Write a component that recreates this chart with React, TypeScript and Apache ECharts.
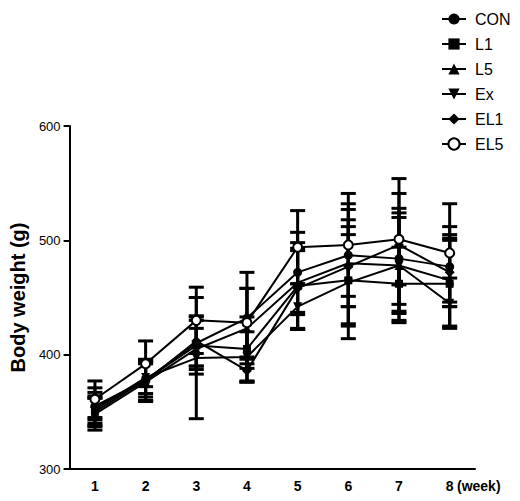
import React, { useEffect, useRef } from "react";
import * as echarts from "echarts";

const weeks = ["1", "2", "3", "4", "5", "6", "7", "8"];
const seriesNames = ["CON", "L1", "L5", "Ex", "EL1", "EL5"];

const conMean = [355, 378, 410, 432, 472, 487, 484, 477];
const l1Mean = [350, 378, 408, 405, 460, 465, 462, 462];
const l5Mean = [348, 376, 405, 423, 463, 480, 478, 465];
const exMean = [352, 380, 397, 398, 442, 463, 478, 445];
const el1Mean = [354, 377, 412, 386, 458, 477, 496, 472];
const el5Mean = [361, 392, 430, 428, 494, 496, 501, 489];

const conSd = [12, 15, 20, 40, 35, 45, 40, 35];
const l1Sd = [12, 18, 25, 28, 38, 40, 32, 38];
const l5Sd = [14, 16, 18, 35, 28, 38, 50, 40];
const exSd = [12, 14, 53, 22, 20, 49, 42, 22];
const el1Sd = [17, 18, 22, 10, 35, 50, 58, 30];
const el5Sd = [16, 20, 29, 30, 32, 45, 40, 43];

const means = [conMean, l1Mean, l5Mean, exMean, el1Mean, el5Mean];
const sds = [conSd, l1Sd, l5Sd, exSd, el1Sd, el5Sd];
const symbols = ["circle", "rect", "triangle", "triangle", "diamond", "emptyCircle"];
const rotations = [0, 0, 0, 180, 0, 0];
const symbolSizes = [9, 8, 9, 9, 10, 9];

const FONT = "Liberation Sans, Arial, sans-serif";

export default function App() {
  const ref = useRef<HTMLDivElement>(null);
  useEffect(() => {
    if (!ref.current) return;
    const chart = echarts.init(ref.current, null, { renderer: "svg" });
    const lineSeries = seriesNames.map((name, k) => ({
      name,
      type: "line",
      data: means[k],
      symbol: symbols[k],
      symbolRotate: rotations[k],
      symbolSize: symbolSizes[k],
      itemStyle: { color: "#000", borderColor: "#000", borderWidth: k === 5 ? 2.2 : 0 },
      lineStyle: { color: "#000", width: 2 },
      z: 3,
    }));
    const errSeries = seriesNames.map((name, k) => ({
      name: name + "_err",
      type: "custom",
      data: means[k].map((m, i) => [i, m - sds[k][i], m + sds[k][i]]),
      renderItem: (params: any, api: any) => {
        const i = api.value(0);
        const lo = api.coord([i, api.value(1)]);
        const hi = api.coord([i, api.value(2)]);
        const hw = 7.5;
        const style = { stroke: "#000", lineWidth: 3 };
        return {
          type: "group",
          children: [
            { type: "line", shape: { x1: lo[0], y1: lo[1], x2: hi[0], y2: hi[1] }, style },
            { type: "line", shape: { x1: lo[0] - hw, y1: lo[1], x2: lo[0] + hw, y2: lo[1] }, style },
            { type: "line", shape: { x1: hi[0] - hw, y1: hi[1], x2: hi[0] + hw, y2: hi[1] }, style },
          ],
        };
      },
      z: 2,
      silent: true,
    }));
    chart.setOption({
      animation: false,
      backgroundColor: "#fff",
      textStyle: { fontFamily: FONT },
      legend: {
        data: seriesNames,
        orient: "vertical",
        left: 436,
        top: 6,
        itemWidth: 24,
        itemHeight: 14,
        itemGap: 9,
        textStyle: { fontSize: 16, lineHeight: 14, color: "#000", fontFamily: FONT, padding: [0, 0, 0, 4] },
        selectedMode: false,
      },
      grid: { left: 69, right: 45, top: 126, bottom: 32, containLabel: false },
      xAxis: {
        type: "category",
        data: weeks,
        boundaryGap: true,
        axisLine: { lineStyle: { color: "#000", width: 2 } },
        axisTick: { alignWithLabel: true, length: 6, lineStyle: { color: "#000", width: 2 } },
        axisLabel: { color: "#000", fontSize: 14, fontWeight: "bold", margin: 10 },
        splitLine: { show: false },
      },
      yAxis: {
        type: "value",
        min: 300,
        max: 600,
        interval: 100,
        name: "Body weight (g)",
        nameLocation: "middle",
        nameGap: 38,
        nameTextStyle: { color: "#000", fontSize: 20, fontWeight: "bold", fontFamily: FONT },
        axisLine: { show: true, lineStyle: { color: "#000", width: 2 } },
        axisTick: { show: true, length: 6, lineStyle: { color: "#000", width: 2 } },
        axisLabel: { color: "#000", fontSize: 13, margin: 9 },
        splitLine: { show: false },
      },
      graphic: [
        {
          type: "text",
          left: 457,
          top: 479,
          style: { text: "(week)", fontSize: 14, fontWeight: "bold", fill: "#000", fontFamily: FONT },
        },
      ],
      series: [...errSeries, ...lineSeries],
    });
    return () => chart.dispose();
  }, []);
  return <div ref={ref} style={{ position: "fixed", left: 0, top: 0, width: 520, height: 501 }} />;
}
